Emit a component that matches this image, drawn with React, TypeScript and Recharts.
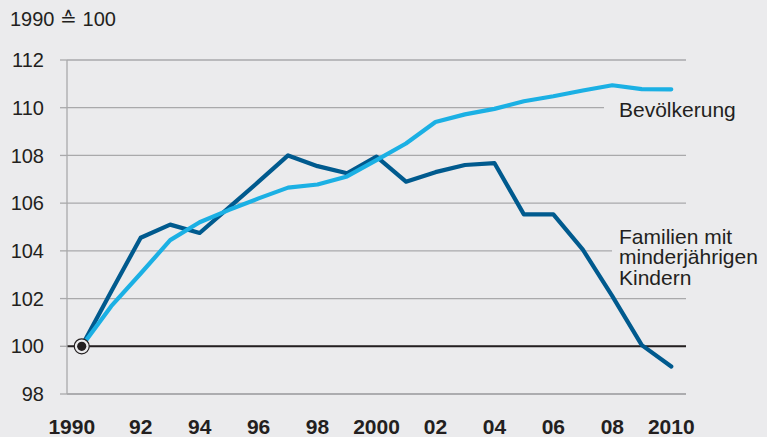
import React from "react";
import {
  LineChart,
  Line,
  XAxis,
  YAxis,
  CartesianGrid,
  ReferenceLine,
} from "recharts";

const BG = "#ebebed";
const GRID = "#a9a9ab";
const INK = "#231f20";
const DARK = "#005a8e";
const LIGHT = "#1bb0e4";
const FONT = '"Liberation Sans", Arial, Helvetica, sans-serif';

const years = [
  1990, 1991, 1992, 1993, 1994, 1995, 1996, 1997, 1998, 1999, 2000,
  2001, 2002, 2003, 2004, 2005, 2006, 2007, 2008, 2009, 2010,
];
const familien = [
  100, 102.3, 104.55, 105.1, 104.75, 105.82, 106.9, 108.0, 107.55, 107.25, 107.95,
  106.9, 107.3, 107.6, 107.68, 105.53, 105.53, 104.05, 102.1, 100.05, 99.15,
];
const bevoelkerung = [
  100, 101.68, 103.05, 104.45, 105.2, 105.72, 106.2, 106.65, 106.78, 107.12, 107.8,
  108.5, 109.4, 109.72, 109.95, 110.27, 110.48, 110.72, 110.94, 110.78, 110.77,
];
const yTicks = [98, 100, 102, 104, 106, 108, 110, 112];
const labelYears = [1990, 1992, 1994, 1996, 1998, 2000, 2002, 2004, 2006, 2008, 2010];

const data = years.map((year, i) => ({
  year,
  familien: familien[i],
  bevoelkerung: bevoelkerung[i],
}));

// tick marks sit between the years
const bandTicks = [...years.map((y) => y - 0.5), years[years.length - 1] + 0.5];
const xDomain = [years[0] - 0.5, years[years.length - 1] + 0.5];

const yearLabel = (v: number) =>
  v % 10 === 0 ? String(v) : String(v % 100).padStart(2, "0");

const XTick = (props: any) => {
  const { x, y, payload } = props;
  const shift = payload.value === 1990 ? -10 : 0;
  return (
    <text
      x={x + shift}
      y={y}
      dy="0.71em"
      textAnchor="middle"
      fontFamily={FONT}
      fontSize={21}
      fontWeight="bold"
      fill={INK}
    >
      {yearLabel(payload.value)}
    </text>
  );
};

const StartDot = (props: any) => {
  const { cx, cy, index } = props;
  if (index !== 0) return <g key={`d-${index}`} />;
  return (
    <g key={`d-${index}`}>
      <circle cx={cx} cy={cy} r={7.5} fill={BG} stroke={INK} strokeWidth={1.2} />
      <circle cx={cx} cy={cy} r={4.6} fill={INK} />
    </g>
  );
};

const boxStyle: React.CSSProperties = {
  position: "absolute",
  background: BG,
  color: INK,
  fontFamily: FONT,
  fontSize: 21,
  whiteSpace: "nowrap",
};

export default function App() {
  return (
    <div
      style={{
        position: "absolute",
        left: 0,
        top: 0,
        width: 767,
        height: 437,
        background: BG,
        overflow: "hidden",
      }}
    >
      <div
        style={{
          position: "absolute",
          left: 10,
          top: 9,
          fontFamily: FONT,
          fontSize: 20,
          lineHeight: "20px",
          color: INK,
        }}
      >
        1990 ≙ 100
      </div>
      <LineChart
        width={767}
        height={437}
        data={data}
        margin={{ top: 60, right: 81, bottom: 0, left: 7 }}
      >
        <CartesianGrid horizontal vertical={false} stroke={GRID} strokeWidth={1.3} />
        <XAxis
          dataKey="year"
          type="number"
          domain={xDomain}
          allowDataOverflow
          ticks={bandTicks}
          interval={0}
          tick={false}
          tickSize={9}
          height={10}
          axisLine={{ stroke: GRID, strokeWidth: 1.3 }}
          tickLine={{ stroke: GRID, strokeWidth: 1.3 }}
        />
        <XAxis
          xAxisId="labels"
          dataKey="year"
          type="number"
          domain={xDomain}
          allowDataOverflow
          ticks={labelYears}
          interval={0}
          tick={<XTick />}
          tickSize={0}
          tickMargin={14.6}
          height={33}
          axisLine={false}
          tickLine={false}
        />
        <YAxis
          type="number"
          domain={[98, 112]}
          ticks={yTicks}
          interval={0}
          width={60}
          tickSize={7}
          tickMargin={16}
          axisLine={{ stroke: GRID, strokeWidth: 1.3 }}
          tickLine={{ stroke: GRID, strokeWidth: 1.3 }}
          tick={{ fontFamily: FONT, fontSize: 20, fill: INK }}
        />
        <ReferenceLine y={100} stroke={INK} strokeWidth={2} />
        <Line
          dataKey="familien"
          stroke={DARK}
          strokeWidth={4.2}
          strokeLinecap="round"
          strokeLinejoin="round"
          dot={false}
          activeDot={false}
          isAnimationActive={false}
        />
        <Line
          dataKey="bevoelkerung"
          stroke={LIGHT}
          strokeWidth={4.2}
          strokeLinecap="round"
          strokeLinejoin="round"
          dot={<StartDot />}
          activeDot={false}
          isAnimationActive={false}
        />
      </LineChart>
      <div
        style={{
          ...boxStyle,
          left: 604,
          top: 99,
          width: 163,
          paddingLeft: 15,
          boxSizing: "border-box",
          lineHeight: "21px",
        }}
      >
        Bevölkerung
      </div>
      <div
        style={{
          ...boxStyle,
          left: 612,
          top: 226.5,
          width: 155,
          paddingLeft: 7,
          boxSizing: "border-box",
          lineHeight: "20.5px",
        }}
      >
        Familien mit
        <br />
        minderjährigen
        <br />
        Kindern
      </div>
    </div>
  );
}
